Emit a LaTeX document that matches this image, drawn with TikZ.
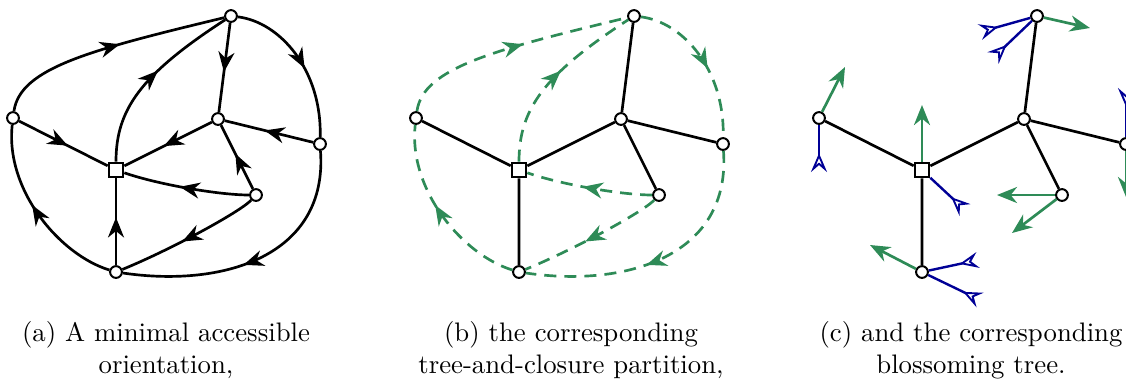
\documentclass[tikz,border=0pt]{standalone}
\usepackage{amsmath}
\usetikzlibrary{arrows.meta,decorations.markings}
\definecolor{closgreen}{RGB}{46,139,87}
\definecolor{stemblue}{RGB}{0,0,150}

\begin{document}
\begin{tikzpicture}[x=0.3736pt,y=-0.3736pt,line width=1pt,
 vtx/.style={draw,circle,fill=white,inner sep=0pt,minimum size=4.4pt,line width=0.75pt},
 rootv/.style={draw,rectangle,fill=white,inner sep=0pt,minimum size=5.4pt,line width=0.85pt},
 midarr/.style={postaction={decorate},decoration={markings,mark=at position #1 with {\arrow{Stealth[length=7.5pt,width=6pt,inset=2.4pt]}}}},
 midarr/.default=0.55,
 clos/.style={closgreen,dash pattern=on 4.5pt off 3pt},
 outstem/.style={closgreen,-{Stealth[length=7.5pt,width=6pt,inset=2.4pt]}},
 instem/.style={stemblue,line width=0.9pt,-{Stealth[open,reversed,length=7pt,width=6pt,inset=2.6pt,line width=0.7pt]}},
 captext/.style={align=center}]
\useasboundingbox (0,0) rectangle (1126,380);
% (a) minimal accessible orientation
\node[vtx] (aT) at (231,16) {};
\node[vtx] (aL) at (13,118) {};
\node[rootv] (aR) at (116,170) {};
\node[vtx] (aC) at (218,119) {};
\node[vtx] (aRt) at (320,144) {};
\node[vtx] (aI) at (256,195) {};
\node[vtx] (aB) at (116,272) {};
\draw[midarr] (aL) -- (aR);
\draw[midarr] (aC) -- (aR);
\draw[midarr] (aB) -- (aR);
\draw[midarr] (aT) -- (aC);
\draw[midarr] (aRt) -- (aC);
\draw[midarr] (aI) -- (aC);
\draw[midarr] (aL) .. controls (20,68) and (90,50) .. (aT);
\draw[midarr] (aR) .. controls (116,110) and (140,75) .. (aT);
\draw[midarr] (aT) .. controls (280,22) and (322,70) .. (aRt);
\draw[midarr] (aRt) .. controls (328,255) and (225,288) .. (aB);
\draw[midarr] (aB) .. controls (60,255) and (5,190) .. (aL);
\draw[midarr] (aI) .. controls (220,195) and (160,185) .. (aR);
\draw[midarr] (aI) .. controls (240,212) and (170,250) .. (aB);
\node[captext] (capa) at (166,350) {(a) A minimal accessible\\orientation,};
% (b) tree and closure edges
\begin{scope}[shift={(403,0)}]
\node[vtx] (bT) at (231,16) {};
\node[vtx] (bL) at (13,118) {};
\node[rootv] (bR) at (116,170) {};
\node[vtx] (bC) at (218,119) {};
\node[vtx] (bRt) at (320,144) {};
\node[vtx] (bI) at (256,195) {};
\node[vtx] (bB) at (116,272) {};
\draw (bL) -- (bR) (bC) -- (bR) (bB) -- (bR);
\draw (bT) -- (bC) (bRt) -- (bC) (bI) -- (bC);
\draw[clos,midarr] (bL) .. controls (20,68) and (90,50) .. (bT);
\draw[clos,midarr] (bR) .. controls (116,110) and (140,75) .. (bT);
\draw[clos,midarr] (bT) .. controls (280,22) and (322,70) .. (bRt);
\draw[clos,midarr] (bRt) .. controls (328,255) and (225,288) .. (bB);
\draw[clos,midarr] (bB) .. controls (60,255) and (5,190) .. (bL);
\draw[clos,midarr] (bI) .. controls (220,195) and (160,185) .. (bR);
\draw[clos,midarr] (bI) .. controls (240,212) and (170,250) .. (bB);
\node[captext] (capb) at (168,350) {(b) the corresponding\\tree-and-closure partition,};
\end{scope}
% (c) blossoming tree
\begin{scope}[shift={(806,0)}]
\node[vtx] (cT) at (231,16) {};
\node[vtx] (cL) at (13,118) {};
\node[rootv] (cR) at (116,170) {};
\node[vtx] (cC) at (218,119) {};
\node[vtx] (cRt) at (320,144) {};
\node[vtx] (cI) at (256,195) {};
\node[vtx] (cB) at (116,272) {};
\draw (cL) -- (cR) (cC) -- (cR) (cB) -- (cR);
\draw (cT) -- (cC) (cRt) -- (cC) (cI) -- (cC);
\coordinate (gT) at (284,28);
\coordinate (gL) at (39,67);
\coordinate (gR) at (116,105);
\coordinate (gI1) at (191,195);
\coordinate (gI2) at (206,233);
\coordinate (gB) at (64,245);
\coordinate (gRt) at (320,197);
\coordinate (sT1) at (174,32);
\coordinate (sT2) at (187,58);
\coordinate (sL) at (13,172);
\coordinate (sR) at (159,210);
\coordinate (sB1) at (172,260);
\coordinate (sB2) at (174,300);
\coordinate (sRt) at (320,88);
\draw[outstem] (cT) -- (gT);
\draw[outstem] (cL) -- (gL);
\draw[outstem] (cR) -- (gR);
\draw[outstem] (cI) -- (gI1);
\draw[outstem] (cI) -- (gI2);
\draw[outstem] (cB) -- (gB);
\draw[outstem] (cRt) -- (gRt);
\draw[instem] (cT) -- (sT1);
\draw[instem] (cT) -- (sT2);
\draw[instem] (cL) -- (sL);
\draw[instem] (cR) -- (sR);
\draw[instem] (cB) -- (sB1);
\draw[instem] (cB) -- (sB2);
\draw[instem] (cRt) -- (sRt);
\node[captext] (capc) at (165,350) {(c) and the corresponding\\blossoming tree.};
\end{scope}
\end{tikzpicture}
\end{document}
